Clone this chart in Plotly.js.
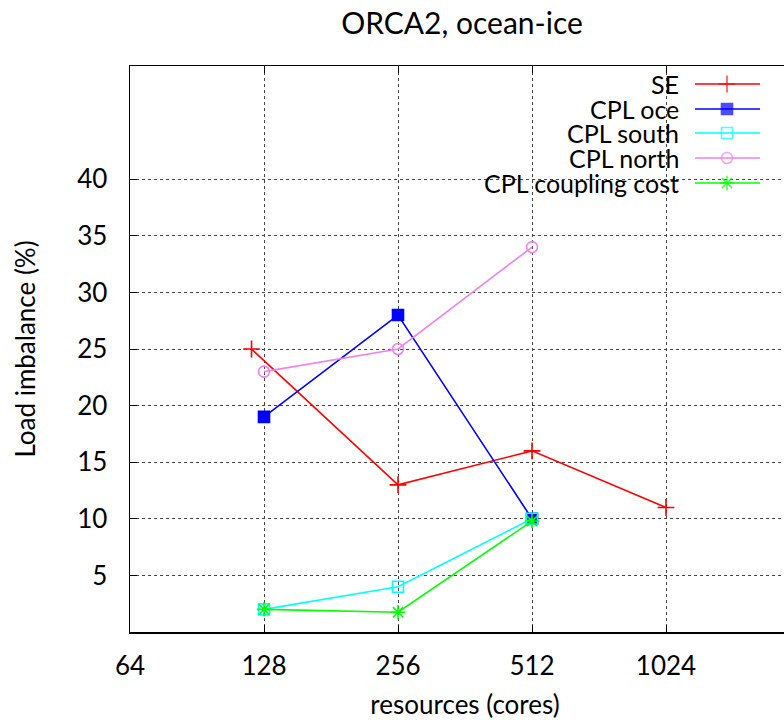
<!DOCTYPE html>
<html>
<head>
<meta charset="utf-8">
<script src="https://cdn.plot.ly/plotly-3.0.1.min.js"></script>
<style>
html,body{margin:0;padding:0;overflow:hidden;background:#fff;}
#chart{width:800px;height:720px;}
</style>
</head>
<body>
<div id="chart"></div>
<script>
// ---- data ----
var xTicks = [64, 128, 256, 512, 1024];
var xTickText = ['64', '128', '256', '512', '1024'];
var yTicks = [5, 10, 15, 20, 25, 30, 35, 40];

var seCores = [120, 256, 512, 1024];
var seValues = [25, 13, 16, 11];

var cplCores = [128, 256, 512];
var cplOce = [19, 28, 10];
var cplSouth = [2, 4, 10];
var cplNorth = [23, 25, 34];
var cplCoupling = [2, 1.75, 9.8];

var seriesNames = ['SE', 'CPL oce', 'CPL south', 'CPL north', 'CPL coupling cost'];
var seriesColors = ['#ff0000', '#0000ff', '#00ffff', '#ee82ee', '#00ff00'];
var seriesSymbols = ['cross-thin-open', 'square', 'square-open', 'circle-open', 'asterisk-open'];
var seriesSizes = [12, 11, 11, 11, 12];

var FONT = 'Lato, "Open Sans", sans-serif';

var xs = [seCores, cplCores, cplCores, cplCores, cplCores];
var ys = [seValues, cplOce, cplSouth, cplNorth, cplCoupling];

var traces = [];
for (var i = 0; i < 5; i++) {
  traces.push({
    x: xs[i], y: ys[i], name: seriesNames[i],
    type: 'scatter', mode: 'lines+markers',
    line: {color: seriesColors[i], width: 1.6},
    marker: {symbol: seriesSymbols[i], size: seriesSizes[i], color: seriesColors[i],
             line: {color: seriesColors[i], width: 1.6}},
    showlegend: false, cliponaxis: false
  });
}

// gnuplot-style key: text on the left, sample on the right (built on a pixel overlay axis)
var keyRowY = [84, 109, 133, 158, 183];
var annotations = [];
for (var k = 0; k < 5; k++) {
  traces.push({
    x: [695, 727, 760], y: [keyRowY[k], keyRowY[k], keyRowY[k]],
    xaxis: 'x2', yaxis: 'y2',
    type: 'scatter', mode: 'lines+markers', showlegend: false, hoverinfo: 'skip',
    line: {color: seriesColors[k], width: 1.6},
    marker: {symbol: seriesSymbols[k], size: [0, seriesSizes[k], 0], color: seriesColors[k],
             line: {color: seriesColors[k], width: [0, 1.6, 0]}},
    cliponaxis: false
  });
  annotations.push({
    xref: 'x2', yref: 'y2', x: 681, y: keyRowY[k], xanchor: 'right', yanchor: 'middle',
    text: seriesNames[k], showarrow: false, font: {family: FONT, size: 25, color: '#000'}
  });
}

var layout = {
  width: 800, height: 720,
  margin: {l: 130, r: 0, t: 66, b: 88},
  paper_bgcolor: '#fff', plot_bgcolor: '#fff',
  font: {family: FONT, size: 26, color: '#000'},
  title: {text: 'ORCA2, ocean-ice', x: 462 / 800, xref: 'container', xanchor: 'center',
          y: 1 - 23 / 720, yref: 'container', yanchor: 'middle',
          font: {family: FONT, size: 30, color: '#000'}},
  xaxis: {
    type: 'log', range: [Math.log10(64), Math.log10(2048)],
    tickvals: xTicks, ticktext: xTickText,
    showgrid: true, gridcolor: '#444', griddash: 'dot', gridwidth: 1,
    showline: true, linecolor: '#000', linewidth: 1.5, mirror: 'ticks',
    ticks: 'inside', ticklen: 7, tickcolor: '#000', ticklabelstandoff: 10,
    tickfont: {family: FONT, size: 26},
    zeroline: false,
    title: {text: 'resources (cores)', standoff: 20, font: {family: FONT, size: 26}}
  },
  yaxis: {
    range: [0, 50], tickvals: yTicks,
    showgrid: true, gridcolor: '#444', griddash: 'dot', gridwidth: 1,
    showline: true, linecolor: '#000', linewidth: 1.5, mirror: 'ticks',
    ticks: 'inside', ticklen: 7, tickcolor: '#000', ticklabelstandoff: 16,
    tickfont: {family: FONT, size: 26},
    zeroline: false,
    title: {text: 'Load imbalance (%)', standoff: 34, font: {family: FONT, size: 26}}
  },
  xaxis2: {overlaying: 'x', range: [130, 800], visible: false, fixedrange: true},
  yaxis2: {overlaying: 'y', range: [632, 66], visible: false, fixedrange: true},
  shapes: [{
    type: 'rect', xref: 'paper', yref: 'paper', layer: 'between',
    x0: (423 - 130) / 670, x1: (776 - 130) / 670,
    y0: (632 - 195) / 566, y1: (632 - 68) / 566,
    fillcolor: '#fff', line: {width: 0}
  }],
  annotations: annotations,
  showlegend: false
};

Plotly.newPlot('chart', traces, layout, {displayModeBar: false, staticPlot: true});
</script>
</body>
</html>
